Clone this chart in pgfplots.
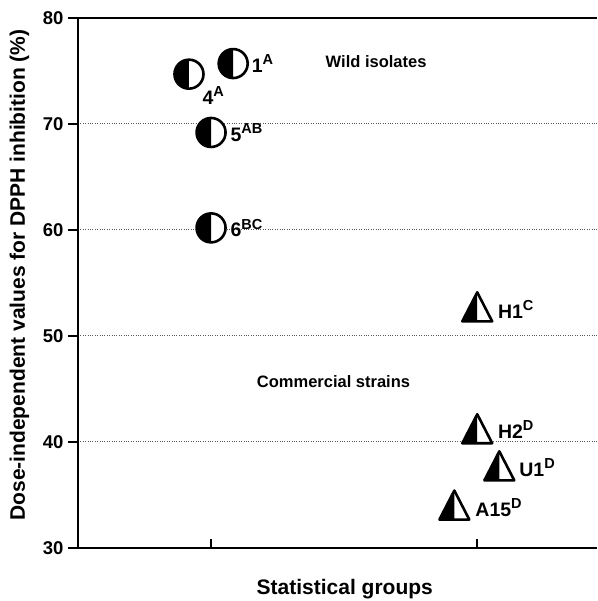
\documentclass[border=0pt]{standalone}
\usepackage{fontspec}
\setmainfont{Liberation Sans}
\usepackage{pgfplots}
\pgfplotsset{compat=1.18}

\pgfdeclareplotmark{halfcirc}{%
  \pgfsetfillcolor{white}%
  \pgfpathcircle{\pgfpointorigin}{\pgfplotmarksize}%
  \pgfusepath{fill}%
  \pgfsetfillcolor{black}%
  \pgfpathmoveto{\pgfpoint{0pt}{\pgfplotmarksize}}%
  \pgfpatharc{90}{270}{\pgfplotmarksize}%
  \pgfpathclose
  \pgfusepath{fill}%
  \pgfpathcircle{\pgfpointorigin}{\pgfplotmarksize}%
  \pgfusepath{stroke}%
}
\pgfdeclareplotmark{halftri}{%
  \pgfsetfillcolor{white}%
  \pgfpathmoveto{\pgfpoint{0pt}{1.33\pgfplotmarksize}}%
  \pgfpathlineto{\pgfpoint{-1.03\pgfplotmarksize}{-0.67\pgfplotmarksize}}%
  \pgfpathlineto{\pgfpoint{1.03\pgfplotmarksize}{-0.67\pgfplotmarksize}}%
  \pgfpathclose
  \pgfusepath{fill}%
  \pgfsetfillcolor{black}%
  \pgfpathmoveto{\pgfpoint{0pt}{1.33\pgfplotmarksize}}%
  \pgfpathlineto{\pgfpoint{-1.03\pgfplotmarksize}{-0.67\pgfplotmarksize}}%
  \pgfpathlineto{\pgfpoint{0pt}{-0.67\pgfplotmarksize}}%
  \pgfpathclose
  \pgfusepath{fill}%
  \pgfsetroundjoin
  \pgfpathmoveto{\pgfpoint{0pt}{1.33\pgfplotmarksize}}%
  \pgfpathlineto{\pgfpoint{-1.03\pgfplotmarksize}{-0.67\pgfplotmarksize}}%
  \pgfpathlineto{\pgfpoint{1.03\pgfplotmarksize}{-0.67\pgfplotmarksize}}%
  \pgfpathclose
  \pgfusepath{stroke}%
}

\newcommand{\lab}[2]{\fontsize{19.5}{22}\selectfont\bfseries #1\textsuperscript{\fontsize{14.5}{16}\selectfont #2}}

\begin{document}
\begin{tikzpicture}
\begin{axis}[
  scale only axis,
  width=519pt, height=530pt,
  xmin=0.5, xmax=2.45,
  ymin=30, ymax=80,
  axis x line*=bottom,
  axis y line*=left,
  axis line style={line width=2.5pt, -},
  xtick=\empty,
  ytick={30,40,50,60,70,80},
  tick align=outside,
  major tick length=10pt,
  tick style={line width=1.6pt, black},
  /pgf/number format/assume math mode=true,
  yticklabel style={font=\fontsize{18.5}{20}\selectfont\bfseries, xshift=-1pt},
  ymajorgrids,
  major grid style={dotted, line width=1pt, gray!70!black},
  clip=false,
  every axis y label/.style={at={(axis description cs:-0.087,0.515)}, rotate=90, anchor=south},
  ylabel={\fontsize{21}{24}\selectfont\bfseries Dose-independent values for DPPH inhibition (\%)},
  every axis x label/.style={at={(axis description cs:0.514,-0.078)}, anchor=center},
  xlabel={\fontsize{21}{24}\selectfont\bfseries Statistical groups},
]
% wild isolates
\addplot[only marks, mark=halfcirc, mark size=14.5pt, mark options={line width=2.6pt, draw=black}]
  coordinates {(0.917,74.7) (1.083,75.7) (1.0,69.2) (1.0,60.2)};
% commercial strains
\addplot[only marks, mark=halftri, mark size=14.5pt, mark options={line width=2.6pt, draw=black}]
  coordinates {(2.0,52.3) (2.0,40.8) (2.083,37.3) (1.914,33.6)};

\node[anchor=west] at (axis cs:1.14,75.7) {\lab{1}{A}};
\node[anchor=west] at (axis cs:0.955,72.7) {\lab{4}{A}};
\node[anchor=west] at (axis cs:1.06,69.2) {\lab{5}{AB}};
\node[anchor=west] at (axis cs:1.06,60.2) {\lab{6}{BC}};
\node[anchor=west] at (axis cs:2.065,52.5) {\lab{H1}{C}};
\node[anchor=west] at (axis cs:2.065,41.2) {\lab{H2}{D}};
\node[anchor=west] at (axis cs:2.145,37.6) {\lab{U1}{D}};
\node[anchor=west] at (axis cs:1.98,33.8) {\lab{A15}{D}};

\node at (axis cs:1.62,75.9) {\fontsize{16.5}{19}\selectfont\bfseries Wild isolates};
\node at (axis cs:1.46,45.7) {\fontsize{16.5}{19}\selectfont\bfseries Commercial strains};

\draw[line width=2.5pt] (rel axis cs:0,1) -- (rel axis cs:1,1);
\draw[line width=1.6pt] (axis cs:1,30) -- ++(0pt,9pt);
\draw[line width=1.6pt] (axis cs:2,30) -- ++(0pt,9pt);
\end{axis}
\pgfresetboundingbox
\path (-78pt,-53pt) rectangle (519pt,548pt);
\end{tikzpicture}
\end{document}
